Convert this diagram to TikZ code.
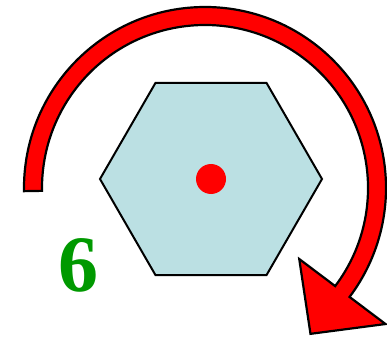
\documentclass[tikz,border=0pt]{standalone}
\usepackage{fontspec}
\setmainfont{Liberation Serif}
\usepackage{xcolor}
\usetikzlibrary{shapes.geometric,calc}
\definecolor{ink}{HTML}{000000}
\definecolor{hexfill}{HTML}{BBE0E3}
\definecolor{turnred}{HTML}{FF0000}
\definecolor{countgreen}{HTML}{009900}
\tikzset{
  hexagon/.style={regular polygon,regular polygon sides=6,
                  minimum size=222pt,inner sep=0pt,draw=ink,fill=hexfill,
                  line width=2pt},
  axisdot/.style={circle,fill=turnred,minimum size=30pt,inner sep=0pt},
  turnband/.style={draw=ink,fill=turnred,line width=2.2pt,line join=miter},
  countlabel/.style={font=\fontsize{80}{80}\selectfont\bfseries,text=countgreen,
                     inner sep=0pt}
}
\begin{document}
\begin{tikzpicture}[x=1pt,y=1pt]
    \useasboundingbox (0,0) rectangle (387,340);
    \node[hexagon] (hex) at (211,161) {};
    \node[axisdot] (axis) at (hex.center) {};
    \node[countlabel] (count) at (78,75) {6};

    % clockwise turn arrow
    \coordinate (C) at (205,152);
    \coordinate (base) at ($(C)+(-37:172)$);
    \coordinate (headout) at ($(base)+(-37:54)$);
    \coordinate (headin) at ($(base)+(143:54)$);
    \coordinate (tip) at ($(base)+(233:53)$);
    \path[turnband] ($(C)+(181:181)$) arc[start angle=181,end angle=-37,radius=181pt]
      -- (headout) -- (tip) -- (headin)
      -- ($(C)+(-37:163)$) arc[start angle=-37,end angle=181,radius=163pt] -- cycle;
  \end{tikzpicture}
\end{document}
